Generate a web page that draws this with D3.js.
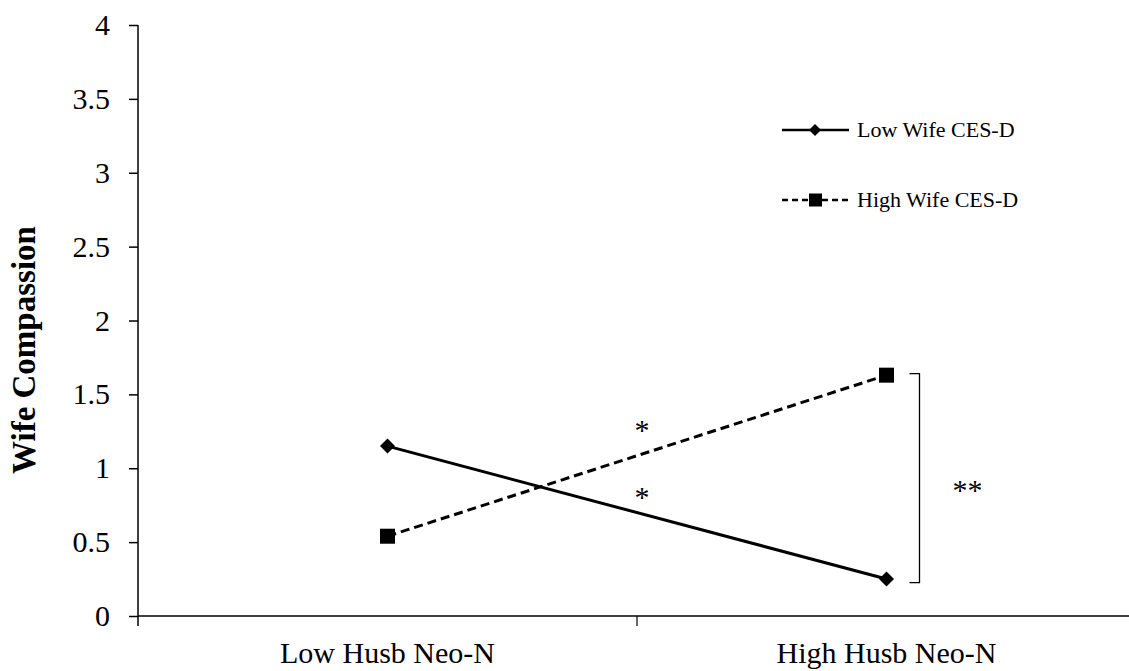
<!DOCTYPE html>
<html>
<head>
<meta charset="utf-8">
<script src="https://cdn.jsdelivr.net/npm/d3@7/dist/d3.min.js"></script>
<style>
  html, body { margin: 0; padding: 0; background: #fff; overflow: hidden; }
  svg { display: block; }
  text { font-family: "Liberation Serif", "Times New Roman", serif; fill: #000; }
</style>
</head>
<body>
<script>
// ---- data ----
const categories = ["Low Husb Neo-N", "High Husb Neo-N"];
const lowWifeCESD = [1.15, 0.25];
const highWifeCESD = [0.54, 1.63];
const seriesNames = ["Low Wife CES-D", "High Wife CES-D"];
const yTicks = [0, 0.5, 1, 1.5, 2, 2.5, 3, 3.5, 4];
const yTitle = "Wife Compassion";

const W = 1129, H = 671;
const svg = d3.select("body").append("svg").attr("width", W).attr("height", H);
const FF = "'Liberation Serif', 'Times New Roman', serif";

const x = d3.scaleBand().domain(categories).range([138, 1136]).paddingInner(0).paddingOuter(0);
const y = d3.scaleLinear().domain([0, 4]).range([616, 25]);
const cx = c => x(c) + x.bandwidth() / 2;

// y axis
const yAxis = d3.axisLeft(y).tickValues(yTicks).tickSize(9).tickPadding(19).tickFormat(d => String(d));
const yg = svg.append("g").attr("transform", "translate(138,0)").call(yAxis);
yg.select(".domain").remove();
yg.selectAll(".tick line").attr("stroke", "#000").attr("stroke-width", 1.5);
yg.selectAll(".tick text").attr("font-size", 30).attr("font-family", FF).attr("fill", "#000");
svg.append("line").attr("x1", 138).attr("x2", 138).attr("y1", 25).attr("y2", 626)
  .attr("stroke", "#000").attr("stroke-width", 1.5);

// x axis
svg.append("line").attr("x1", 138).attr("x2", W).attr("y1", y(0)).attr("y2", y(0))
  .attr("stroke", "#000").attr("stroke-width", 1.5);
const tickPos = categories.slice(1).map(c => x(c));
svg.selectAll(".xtick").data(tickPos).enter().append("line")
  .attr("x1", d => d).attr("x2", d => d).attr("y1", y(0)).attr("y2", y(0) + 10)
  .attr("stroke", "#000").attr("stroke-width", 1.2);
svg.selectAll(".xlab").data(categories).enter().append("text")
  .attr("x", d => cx(d)).attr("y", 663).attr("text-anchor", "middle")
  .attr("font-size", 30).text(d => d);

// y title
svg.append("text").attr("transform", "translate(35,350) rotate(-90)")
  .attr("text-anchor", "middle").attr("font-size", 33).attr("font-weight", "bold").text(yTitle);

// lines
const line = d3.line().x(d => cx(d.c)).y(d => y(d.v));
const lowData = categories.map((c, i) => ({ c, v: lowWifeCESD[i] }));
const highData = categories.map((c, i) => ({ c, v: highWifeCESD[i] }));

svg.append("path").datum(lowData).attr("d", line).attr("fill", "none")
  .attr("stroke", "#000").attr("stroke-width", 3);
svg.append("path").datum(highData).attr("d", line).attr("fill", "none")
  .attr("stroke", "#000").attr("stroke-width", 3).attr("stroke-dasharray", "9,5");

function diamondPath(s) {
  return `M0,${-s}L${s},0L0,${s}L${-s},0Z`;
}
svg.selectAll(".dia").data(lowData).enter().append("path")
  .attr("d", diamondPath(7.5)).attr("transform", d => `translate(${cx(d.c)},${y(d.v)})`).attr("fill", "#000");
svg.selectAll(".sq").data(highData).enter().append("rect")
  .attr("x", d => cx(d.c) - 7.5).attr("y", d => y(d.v) - 7.5).attr("width", 15).attr("height", 15).attr("fill", "#000");

// significance annotations
const midX = (cx(categories[0]) + cx(categories[1])) / 2;
svg.append("text").attr("x", midX + 5).attr("y", 440).attr("text-anchor", "middle").attr("font-size", 30).text("*");
svg.append("text").attr("x", midX + 5).attr("y", 507).attr("text-anchor", "middle").attr("font-size", 30).text("*");

const bx = cx(categories[1]) + 33;
svg.append("path")
  .attr("d", `M${bx - 10},${y(highWifeCESD[1]) - 1.5}H${bx}V${y(lowWifeCESD[1]) + 3.5}H${bx - 10}`)
  .attr("fill", "none").attr("stroke", "#000").attr("stroke-width", 1.3);
svg.append("text").attr("x", bx + 48).attr("y", 500).attr("text-anchor", "middle").attr("font-size", 30).text("**");

// legend
const legY = [130, 200];
const lg = svg.append("g");
lg.append("line").attr("x1", 782).attr("x2", 849).attr("y1", legY[0]).attr("y2", legY[0])
  .attr("stroke", "#000").attr("stroke-width", 2.5);
lg.append("path").attr("d", diamondPath(6)).attr("transform", `translate(815,${legY[0]})`).attr("fill", "#000");
lg.append("line").attr("x1", 782).attr("x2", 849).attr("y1", legY[1]).attr("y2", legY[1])
  .attr("stroke", "#000").attr("stroke-width", 2.5).attr("stroke-dasharray", "6,4");
lg.append("rect").attr("x", 809).attr("y", legY[1] - 6.5).attr("width", 13).attr("height", 13).attr("fill", "#000");
lg.selectAll(".lt").data(seriesNames).enter().append("text")
  .attr("x", 857).attr("y", (d, i) => legY[i] + 7).attr("font-size", 22).text(d => d);
</script>
</body>
</html>
